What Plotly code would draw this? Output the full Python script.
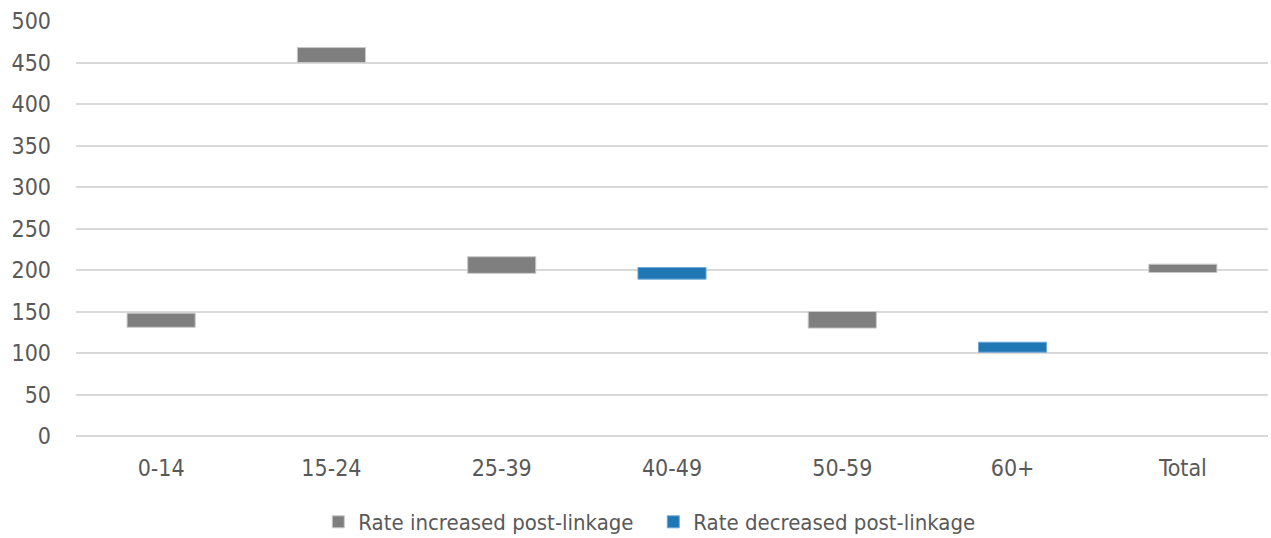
import plotly.graph_objects as go

categories = ["0-14", "15-24", "25-39", "40-49", "50-59", "60+", "Total"]
low_values = [131, 450, 196, 189, 130, 101, 197]
high_values = [148, 468, 216, 203, 150, 113, 207]
increased = [True, True, True, False, True, False, True]
y_ticks = [0, 50, 100, 150, 200, 250, 300, 350, 400, 450, 500]

def series(flag):
    base = [lo if inc == flag else None for lo, inc in zip(low_values, increased)]
    height = [hi - lo if inc == flag else None for lo, hi, inc in zip(low_values, high_values, increased)]
    return base, height

inc_base, inc_h = series(True)
dec_base, dec_h = series(False)

FONT = "DejaVu Sans Condensed, Liberation Sans, Arial, sans-serif"
TXT = "#595959"

fig = go.Figure()
fig.add_trace(go.Bar(
    x=categories, y=inc_h, base=inc_base, name="Rate increased post-linkage",
    marker=dict(color="#7f7f7f", line=dict(color="#c8c8c8", width=1)),
    width=0.4,
))
fig.add_trace(go.Bar(
    x=categories, y=dec_h, base=dec_base, name="Rate decreased post-linkage",
    marker=dict(color="#1f77b4", line=dict(color="#6fa8d6", width=1)),
    width=0.4,
))

fig.update_layout(
    width=1271, height=538,
    margin=dict(l=76, r=3, t=21, b=102),
    paper_bgcolor="white", plot_bgcolor="white",
    barmode="overlay",
    showlegend=True,
    legend=dict(orientation="h", x=0.4843, xanchor="center", xref="paper",
                y=(538 - 522) / 538, yanchor="middle", yref="container",
                font=dict(family=FONT, size=22, color=TXT),
                itemwidth=30, entrywidth=290, traceorder="normal"),
    font=dict(family=FONT, color=TXT),
)
fig.update_yaxes(range=[0, 500], tickvals=y_ticks, showgrid=True, gridcolor="#d9d9d9", gridwidth=1.5,
                 zeroline=True, zerolinecolor="#d9d9d9", zerolinewidth=1.5, automargin=False,
                 tickfont=dict(family=FONT, size=23, color=TXT), ticks="", ticklabelstandoff=24, fixedrange=True)
fig.update_xaxes(showgrid=False, showline=False, ticks="", automargin=False,
                 tickfont=dict(family=FONT, size=23, color=TXT),
                 ticklabelstandoff=16)

fig.write_html("out.html", config={"displayModeBar": False},
               post_script="document.body.style.margin='0';document.body.style.overflow='hidden';")
